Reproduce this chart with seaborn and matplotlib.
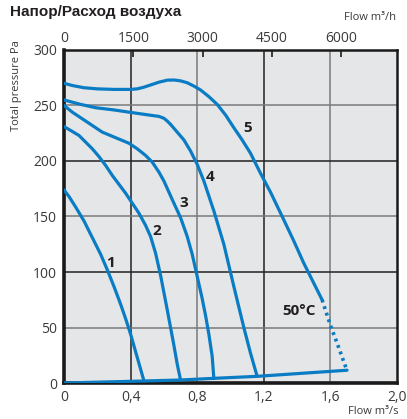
import numpy as np
import pandas as pd
import seaborn as sns
import matplotlib.pyplot as plt

# curves (x in m3/s, y in Pa)
c1_x = [0, 0.03, 0.07, 0.12, 0.18, 0.22, 0.26, 0.30, 0.34, 0.37, 0.40, 0.44, 0.48]
c1_y = [174, 168, 158.5, 146, 128, 116, 102, 87, 71, 58, 44, 23, 2]

c2_x = [0, 0.04, 0.09, 0.13, 0.17, 0.21, 0.25, 0.29, 0.33, 0.37, 0.41, 0.45, 0.49,
        0.52, 0.55, 0.58, 0.62, 0.66, 0.68, 0.70]
c2_y = [231, 227.5, 223, 217, 211, 204, 196, 187, 179, 171, 162, 153, 142,
        132, 117, 97, 66, 34, 17, 2.7]

c3_x = [0, 0.05, 0.11, 0.17, 0.23, 0.31, 0.39, 0.44, 0.49, 0.53, 0.57, 0.60, 0.63,
        0.66, 0.70, 0.74, 0.77, 0.80, 0.83, 0.85, 0.87, 0.89, 0.90]
c3_y = [250, 244, 238, 232, 226, 221, 216, 211, 205, 199, 190, 182, 172,
        162, 149, 132, 116, 96, 76, 61, 44, 24, 4]

c4_x = [0, 0.10, 0.19, 0.30, 0.39, 0.46, 0.53, 0.57, 0.60, 0.62, 0.64, 0.68, 0.72,
        0.76, 0.80, 0.84, 0.90, 0.96, 1.02, 1.08, 1.12, 1.16]
c4_y = [255, 251, 248, 246, 244, 242.5, 241, 240.2, 238.5, 236, 233, 226, 219,
        209, 197, 182, 155, 125, 87, 50, 27, 6]

c5_x = [0, 0.05, 0.12, 0.20, 0.30, 0.40, 0.44, 0.48, 0.52, 0.57, 0.62, 0.66, 0.70,
        0.74, 0.78, 0.82, 0.87, 0.92, 0.97, 1.02, 1.07, 1.12, 1.18, 1.24, 1.32,
        1.38, 1.44, 1.50, 1.55]
c5_y = [270, 268, 266, 265, 264.5, 264.5, 265, 266.5, 268.5, 271, 272.8, 273, 272.2,
        270.5, 267.5, 264, 258, 251, 241.5, 230, 219, 207, 189, 172, 147,
        128, 108, 90, 75]

# dotted continuation of curve 5 (50 C)
c5d_x = [1.55, 1.60, 1.64, 1.70]
c5d_y = [75, 52, 36, 11]

# system line along the bottom
sys_x = [0, 0.48, 0.70, 0.90, 1.16, 1.70]
sys_y = [0, 1.8, 2.7, 4.2, 6, 11.5]

curve_labels = ['1', '2', '3', '4', '5']
label_x = [0.282, 0.559, 0.72, 0.877, 1.105]
label_y = [108, 137, 162, 186, 230]

x_ticks = [0, 0.4, 0.8, 1.2, 1.6, 2.0]
x_ticklabels = ['0', '0,4', '0,8', '1,2', '1,6', '2,0']
y_ticks = [0, 50, 100, 150, 200, 250, 300]
top_ticks = [0, 1500, 3000, 4500, 6000]

sns.set_style('white')
plt.rcParams['font.family'] = ['Open Sans', 'DejaVu Sans']

blue = '#0a7cc4'
txt = '#3a3a3a'

fig = plt.figure(figsize=(4.07, 4.19), dpi=100)
ax = fig.add_axes([64 / 407, 1 - 383 / 419, 333 / 407, 333 / 419])
ax.set_facecolor('#e5e6e8')

# grid, alternating dark / grey
for i, v in enumerate(x_ticks[1:-1]):
    ax.axvline(v, color='#222222' if i % 2 == 0 else '#7a7a7a', lw=1.1, zorder=1)
for v in y_ticks[1:-1]:
    ax.axhline(v, color='#222222' if v % 100 == 0 else '#7a7a7a', lw=1.1, zorder=1)

for xs, ys in [(c1_x, c1_y), (c2_x, c2_y), (c3_x, c3_y), (c4_x, c4_y), (c5_x, c5_y), (sys_x, sys_y)]:
    sns.lineplot(x=xs, y=ys, ax=ax, color=blue, lw=2.3, sort=False, estimator=None,
                 solid_joinstyle='round', zorder=3)
sns.lineplot(x=c5d_x, y=c5d_y, ax=ax, color=blue, lw=2.6, sort=False, estimator=None,
             linestyle=(0, (0.8, 1.1)), zorder=3)

for lab, lx, ly in zip(curve_labels, label_x, label_y):
    ax.text(lx, ly, lab, fontsize=11, fontweight='bold', color='#231f20',
            ha='center', va='center', zorder=4)
ax.text(1.41, 65, '50°C', fontsize=11, fontweight='bold', color='#231f20',
        ha='center', va='center', zorder=4)

ax.set_xlim(0, 2.0)
ax.set_ylim(0, 300)
ax.set_xticks(x_ticks)
ax.set_xticklabels(x_ticklabels)
ax.set_yticks(y_ticks)
ax.tick_params(axis='both', length=0, labelsize=10, labelcolor=txt, pad=5)

for side in ['left', 'bottom']:
    ax.spines[side].set_linewidth(2.6)
    ax.spines[side].set_color('#1a1a1a')
for side in ['top', 'right']:
    ax.spines[side].set_linewidth(1.8)
    ax.spines[side].set_color('#1a1a1a')

top = ax.secondary_xaxis('top', functions=(lambda x: x * 3600, lambda x: x / 3600))
top.set_xticks(top_ticks)
top.tick_params(axis='x', direction='in', length=5, width=1.2, color='#1a1a1a',
                labelsize=10, labelcolor=txt, pad=3)
top.spines['top'].set_visible(False)

fig.text(10 / 407, 1 - 12 / 419, 'Напор/Расход воздуха', fontsize=11, fontweight='bold',
         color='#231f20', ha='left', va='center', family=['Liberation Sans', 'DejaVu Sans'])
fig.text(396 / 407, 1 - 17 / 419, 'Flow m³/h', fontsize=8, color=txt, ha='right', va='center')
fig.text(398 / 407, 1 - 411 / 419, 'Flow m³/s', fontsize=8, color=txt, ha='right', va='center')
fig.text(17 / 407, 1 - 40 / 419, 'Total pressure Pa', fontsize=8, color=txt,
         rotation=90, ha='center', va='top')

fig.savefig('out.png', dpi=100)
